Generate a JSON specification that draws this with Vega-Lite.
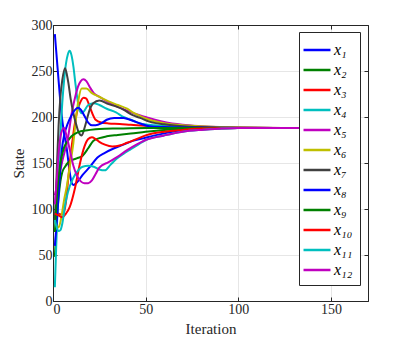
{
  "$schema": "https://vega.github.io/schema/vega-lite/v6.json",
  "width": 315,
  "height": 276,
  "autosize": {"type": "none"},
  "padding": {"left": 53, "top": 25, "right": 39, "bottom": 39},
  "datasets": {
    "d": [
      {"s":"x₁","x":1,"y":290},{"s":"x₁","x":2,"y":265},{"s":"x₁","x":3,"y":240},{"s":"x₁","x":4.5,"y":205},{"s":"x₁","x":6,"y":182},{"s":"x₁","x":7.4,"y":166},{"s":"x₁","x":9,"y":140},{"s":"x₁","x":10,"y":129},{"s":"x₁","x":11,"y":126},{"s":"x₁","x":13,"y":129},{"s":"x₁","x":16,"y":137},{"s":"x₁","x":20,"y":146},{"s":"x₁","x":24,"y":156},{"s":"x₁","x":28,"y":161},{"s":"x₁","x":33,"y":166},{"s":"x₁","x":38,"y":170},{"s":"x₁","x":43,"y":174},{"s":"x₁","x":49,"y":177},{"s":"x₁","x":55,"y":180},{"s":"x₁","x":62,"y":183},{"s":"x₁","x":70,"y":185.5},{"s":"x₁","x":80,"y":187},{"s":"x₁","x":90,"y":187.7},{"s":"x₁","x":100,"y":188},{"s":"x₁","x":135,"y":188},
      {"s":"x₂","x":1,"y":48},{"s":"x₂","x":2,"y":85},{"s":"x₂","x":3,"y":112},{"s":"x₂","x":4,"y":130},{"s":"x₂","x":5,"y":140},{"s":"x₂","x":6.5,"y":146},{"s":"x₂","x":9,"y":152},{"s":"x₂","x":12.8,"y":155},{"s":"x₂","x":16,"y":158},{"s":"x₂","x":19,"y":166},{"s":"x₂","x":21.7,"y":174},{"s":"x₂","x":25,"y":177},{"s":"x₂","x":29,"y":179},{"s":"x₂","x":35,"y":180.5},{"s":"x₂","x":42,"y":182},{"s":"x₂","x":50,"y":184},{"s":"x₂","x":60,"y":186},{"s":"x₂","x":70,"y":187},{"s":"x₂","x":85,"y":187.7},{"s":"x₂","x":100,"y":188},{"s":"x₂","x":135,"y":188},
      {"s":"x₃","x":1,"y":97},{"s":"x₃","x":3,"y":95},{"s":"x₃","x":5.5,"y":94},{"s":"x₃","x":7,"y":108},{"s":"x₃","x":8.3,"y":135},{"s":"x₃","x":9.5,"y":158},{"s":"x₃","x":11,"y":182},{"s":"x₃","x":12.8,"y":204},{"s":"x₃","x":14.5,"y":215},{"s":"x₃","x":16.5,"y":221},{"s":"x₃","x":18,"y":220},{"s":"x₃","x":19.5,"y":213},{"s":"x₃","x":21,"y":205},{"s":"x₃","x":23,"y":197},{"s":"x₃","x":26,"y":194},{"s":"x₃","x":30,"y":193},{"s":"x₃","x":36,"y":192.5},{"s":"x₃","x":42,"y":191.5},{"s":"x₃","x":50,"y":190.5},{"s":"x₃","x":60,"y":189.5},{"s":"x₃","x":75,"y":188.8},{"s":"x₃","x":100,"y":188.2},{"s":"x₃","x":135,"y":188},
      {"s":"x₄","x":1,"y":15},{"s":"x₄","x":2,"y":75},{"s":"x₄","x":3,"y":130},{"s":"x₄","x":4,"y":180},{"s":"x₄","x":5,"y":215},{"s":"x₄","x":6,"y":240},{"s":"x₄","x":7,"y":258},{"s":"x₄","x":8,"y":268},{"s":"x₄","x":9,"y":272},{"s":"x₄","x":10,"y":267},{"s":"x₄","x":11,"y":255},{"s":"x₄","x":12,"y":238},{"s":"x₄","x":13,"y":222},{"s":"x₄","x":14,"y":210},{"s":"x₄","x":15.5,"y":204},{"s":"x₄","x":17,"y":207},{"s":"x₄","x":19,"y":213},{"s":"x₄","x":22,"y":215},{"s":"x₄","x":25,"y":213},{"s":"x₄","x":29,"y":209},{"s":"x₄","x":34,"y":205},{"s":"x₄","x":38,"y":200},{"s":"x₄","x":42,"y":197},{"s":"x₄","x":47,"y":193},{"s":"x₄","x":55,"y":191},{"s":"x₄","x":65,"y":189.5},{"s":"x₄","x":80,"y":188.8},{"s":"x₄","x":100,"y":188.3},{"s":"x₄","x":135,"y":188},
      {"s":"x₅","x":1,"y":115},{"s":"x₅","x":3,"y":132},{"s":"x₅","x":5,"y":152},{"s":"x₅","x":7,"y":168},{"s":"x₅","x":8.3,"y":180},{"s":"x₅","x":10,"y":203},{"s":"x₅","x":12,"y":222},{"s":"x₅","x":13.5,"y":233},{"s":"x₅","x":15,"y":239},{"s":"x₅","x":16.5,"y":241},{"s":"x₅","x":18,"y":239},{"s":"x₅","x":20,"y":232},{"s":"x₅","x":22,"y":226},{"s":"x₅","x":25,"y":222},{"s":"x₅","x":30,"y":216},{"s":"x₅","x":35,"y":211},{"s":"x₅","x":40,"y":207},{"s":"x₅","x":45,"y":203},{"s":"x₅","x":50,"y":200},{"s":"x₅","x":55,"y":197},{"s":"x₅","x":60,"y":194.5},{"s":"x₅","x":70,"y":191.5},{"s":"x₅","x":80,"y":190},{"s":"x₅","x":90,"y":189},{"s":"x₅","x":100,"y":188.5},{"s":"x₅","x":135,"y":188},
      {"s":"x₆","x":1,"y":92},{"s":"x₆","x":2,"y":82},{"s":"x₆","x":3,"y":80},{"s":"x₆","x":4,"y":86},{"s":"x₆","x":5,"y":97},{"s":"x₆","x":6,"y":110},{"s":"x₆","x":7.4,"y":124},{"s":"x₆","x":9,"y":145},{"s":"x₆","x":11,"y":172},{"s":"x₆","x":12.5,"y":200},{"s":"x₆","x":13.7,"y":218},{"s":"x₆","x":15.5,"y":231},{"s":"x₆","x":18,"y":231},{"s":"x₆","x":21,"y":226},{"s":"x₆","x":25,"y":222},{"s":"x₆","x":30,"y":217},{"s":"x₆","x":35,"y":213},{"s":"x₆","x":40,"y":209},{"s":"x₆","x":43,"y":205},{"s":"x₆","x":47,"y":201},{"s":"x₆","x":52,"y":197},{"s":"x₆","x":61,"y":193},{"s":"x₆","x":70,"y":191},{"s":"x₆","x":79,"y":190},{"s":"x₆","x":90,"y":189},{"s":"x₆","x":100,"y":188.5},{"s":"x₆","x":135,"y":188},
      {"s":"x₇","x":1,"y":88},{"s":"x₇","x":2,"y":140},{"s":"x₇","x":3,"y":190},{"s":"x₇","x":4,"y":222},{"s":"x₇","x":5,"y":240},{"s":"x₇","x":6.5,"y":253},{"s":"x₇","x":7.5,"y":246},{"s":"x₇","x":8.3,"y":237},{"s":"x₇","x":9.5,"y":220},{"s":"x₇","x":11,"y":204},{"s":"x₇","x":12.5,"y":192},{"s":"x₇","x":13.7,"y":184},{"s":"x₇","x":15.5,"y":180},{"s":"x₇","x":17,"y":188},{"s":"x₇","x":18.5,"y":199},{"s":"x₇","x":20,"y":209},{"s":"x₇","x":21.7,"y":215},{"s":"x₇","x":25,"y":218},{"s":"x₇","x":30,"y":214},{"s":"x₇","x":34.6,"y":211},{"s":"x₇","x":38,"y":208},{"s":"x₇","x":43,"y":202},{"s":"x₇","x":47,"y":199},{"s":"x₇","x":52,"y":195},{"s":"x₇","x":60,"y":192},{"s":"x₇","x":70,"y":190},{"s":"x₇","x":80,"y":189},{"s":"x₇","x":100,"y":188.3},{"s":"x₇","x":135,"y":188},
      {"s":"x₈","x":1,"y":60},{"s":"x₈","x":2,"y":85},{"s":"x₈","x":3,"y":115},{"s":"x₈","x":4,"y":145},{"s":"x₈","x":5,"y":168},{"s":"x₈","x":6,"y":180},{"s":"x₈","x":8,"y":193},{"s":"x₈","x":10,"y":202},{"s":"x₈","x":12,"y":208},{"s":"x₈","x":13.5,"y":210},{"s":"x₈","x":15,"y":208},{"s":"x₈","x":17,"y":201},{"s":"x₈","x":19,"y":194},{"s":"x₈","x":21,"y":191},{"s":"x₈","x":23,"y":191},{"s":"x₈","x":26,"y":193},{"s":"x₈","x":29,"y":197},{"s":"x₈","x":33,"y":199},{"s":"x₈","x":38,"y":199},{"s":"x₈","x":43,"y":196},{"s":"x₈","x":47,"y":193},{"s":"x₈","x":52,"y":190},{"s":"x₈","x":60,"y":189},{"s":"x₈","x":70,"y":188.5},{"s":"x₈","x":100,"y":188},{"s":"x₈","x":135,"y":188},
      {"s":"x₉","x":1,"y":75},{"s":"x₉","x":2,"y":110},{"s":"x₉","x":3,"y":135},{"s":"x₉","x":4,"y":150},{"s":"x₉","x":5,"y":160},{"s":"x₉","x":6,"y":167},{"s":"x₉","x":8,"y":174},{"s":"x₉","x":10,"y":179},{"s":"x₉","x":12,"y":182},{"s":"x₉","x":15,"y":184.5},{"s":"x₉","x":20,"y":186},{"s":"x₉","x":25,"y":187},{"s":"x₉","x":35,"y":187.5},{"s":"x₉","x":50,"y":188},{"s":"x₉","x":135,"y":188},
      {"s":"x₁₀","x":1,"y":95},{"s":"x₁₀","x":3,"y":93},{"s":"x₁₀","x":5,"y":91},{"s":"x₁₀","x":7,"y":95},{"s":"x₁₀","x":9,"y":102},{"s":"x₁₀","x":12,"y":124},{"s":"x₁₀","x":14.6,"y":150},{"s":"x₁₀","x":17,"y":168},{"s":"x₁₀","x":19,"y":176},{"s":"x₁₀","x":21,"y":178},{"s":"x₁₀","x":23,"y":176},{"s":"x₁₀","x":25,"y":173},{"s":"x₁₀","x":28,"y":170},{"s":"x₁₀","x":32,"y":168},{"s":"x₁₀","x":36,"y":169},{"s":"x₁₀","x":40,"y":172},{"s":"x₁₀","x":45,"y":176},{"s":"x₁₀","x":50,"y":180},{"s":"x₁₀","x":60,"y":184},{"s":"x₁₀","x":70,"y":186},{"s":"x₁₀","x":80,"y":187.5},{"s":"x₁₀","x":100,"y":188},{"s":"x₁₀","x":135,"y":188},
      {"s":"x₁₁","x":1,"y":88},{"s":"x₁₁","x":2,"y":80},{"s":"x₁₁","x":3,"y":76},{"s":"x₁₁","x":4,"y":77},{"s":"x₁₁","x":5,"y":84},{"s":"x₁₁","x":6.5,"y":104},{"s":"x₁₁","x":8,"y":118},{"s":"x₁₁","x":11,"y":134},{"s":"x₁₁","x":14,"y":143},{"s":"x₁₁","x":16,"y":146},{"s":"x₁₁","x":19,"y":147},{"s":"x₁₁","x":22,"y":146},{"s":"x₁₁","x":25,"y":143},{"s":"x₁₁","x":28,"y":142},{"s":"x₁₁","x":31,"y":148},{"s":"x₁₁","x":34,"y":154},{"s":"x₁₁","x":38,"y":160},{"s":"x₁₁","x":42,"y":165},{"s":"x₁₁","x":46,"y":170},{"s":"x₁₁","x":50,"y":175},{"s":"x₁₁","x":60,"y":180},{"s":"x₁₁","x":70,"y":184},{"s":"x₁₁","x":80,"y":186},{"s":"x₁₁","x":90,"y":187.3},{"s":"x₁₁","x":100,"y":188},{"s":"x₁₁","x":135,"y":188},
      {"s":"x₁₂","x":1,"y":105},{"s":"x₁₂","x":2,"y":130},{"s":"x₁₂","x":3,"y":160},{"s":"x₁₂","x":4,"y":178},{"s":"x₁₂","x":5,"y":186},{"s":"x₁₂","x":6,"y":188},{"s":"x₁₂","x":7,"y":182},{"s":"x₁₂","x":9,"y":165},{"s":"x₁₂","x":11,"y":147},{"s":"x₁₂","x":13,"y":136},{"s":"x₁₂","x":15,"y":130},{"s":"x₁₂","x":17,"y":128},{"s":"x₁₂","x":19,"y":128},{"s":"x₁₂","x":21,"y":131},{"s":"x₁₂","x":23,"y":138},{"s":"x₁₂","x":25,"y":145},{"s":"x₁₂","x":30,"y":151},{"s":"x₁₂","x":35,"y":157},{"s":"x₁₂","x":40,"y":164},{"s":"x₁₂","x":45,"y":170},{"s":"x₁₂","x":50,"y":175},{"s":"x₁₂","x":60,"y":180},{"s":"x₁₂","x":70,"y":184},{"s":"x₁₂","x":80,"y":186},{"s":"x₁₂","x":90,"y":187.3},{"s":"x₁₂","x":100,"y":188},{"s":"x₁₂","x":135,"y":188}
    ]
  },
  "data": {"name": "d"},
  "resolve": {"axis": {"x": "independent", "y": "independent"}},
  "layer": [
    {
      "mark": {"type": "line", "strokeWidth": 2, "interpolate": "monotone", "clip": true},
      "encoding": {
        "x": {"field": "x", "type": "quantitative", "scale": {"domain": [0, 170], "nice": false},
              "axis": {"orient": "bottom", "values": [0, 50, 100, 150], "title": "Iteration", "grid": true}},
        "y": {"field": "y", "type": "quantitative", "scale": {"domain": [0, 300], "nice": false},
              "axis": {"orient": "left", "values": [0, 50, 100, 150, 200, 250, 300], "title": "State", "grid": true}},
        "color": {"field": "s", "type": "nominal",
          "scale": {"domain": ["x₁","x₂","x₃","x₄","x₅","x₆","x₇","x₈","x₉","x₁₀","x₁₁","x₁₂"],
                    "range": ["#0000ff","#008000","#ff0000","#00bfbf","#bf00bf","#bfbf00","#404040","#0000ff","#008000","#ff0000","#00bfbf","#bf00bf"]},
          "legend": {"orient": "none", "legendX": 246, "legendY": 7, "title": null,
                     "symbolType": "M-1.42,0H1.42", "symbolSize": 361, "symbolStrokeWidth": 2.5,
                     "labelFont": "Liberation Serif", "labelFontStyle": "italic", "labelFontSize": 16, "labelColor": "#000000",
                     "fillColor": "#ffffff", "strokeColor": "#262626", "padding": 7, "rowPadding": 1, "labelOffset": 6}}
      }
    },
    {
      "mark": {"type": "point", "opacity": 0},
      "encoding": {
        "x": {"field": "x", "type": "quantitative", "axis": {"orient": "top", "values": [0, 50, 100, 150], "labels": false, "title": null, "grid": false}},
        "y": {"field": "y", "type": "quantitative", "axis": {"orient": "right", "values": [0, 50, 100, 150, 200, 250, 300], "labels": false, "title": null, "grid": false}}
      }
    }
  ],
  "config": {
    "font": "Liberation Serif",
    "view": {"stroke": "#262626", "strokeWidth": 1},
    "axis": {
      "labelFont": "Liberation Serif", "labelFontSize": 14, "labelColor": "#262626", "labelPadding": 5,
      "titleFont": "Liberation Serif", "titleFontSize": 15, "titleFontWeight": "normal", "titleColor": "#262626", "titlePadding": 5,
      "domainColor": "#262626", "tickColor": "#262626", "tickSize": -4,
      "gridColor": "#e6e6e6", "gridWidth": 1
    }
  }
}
